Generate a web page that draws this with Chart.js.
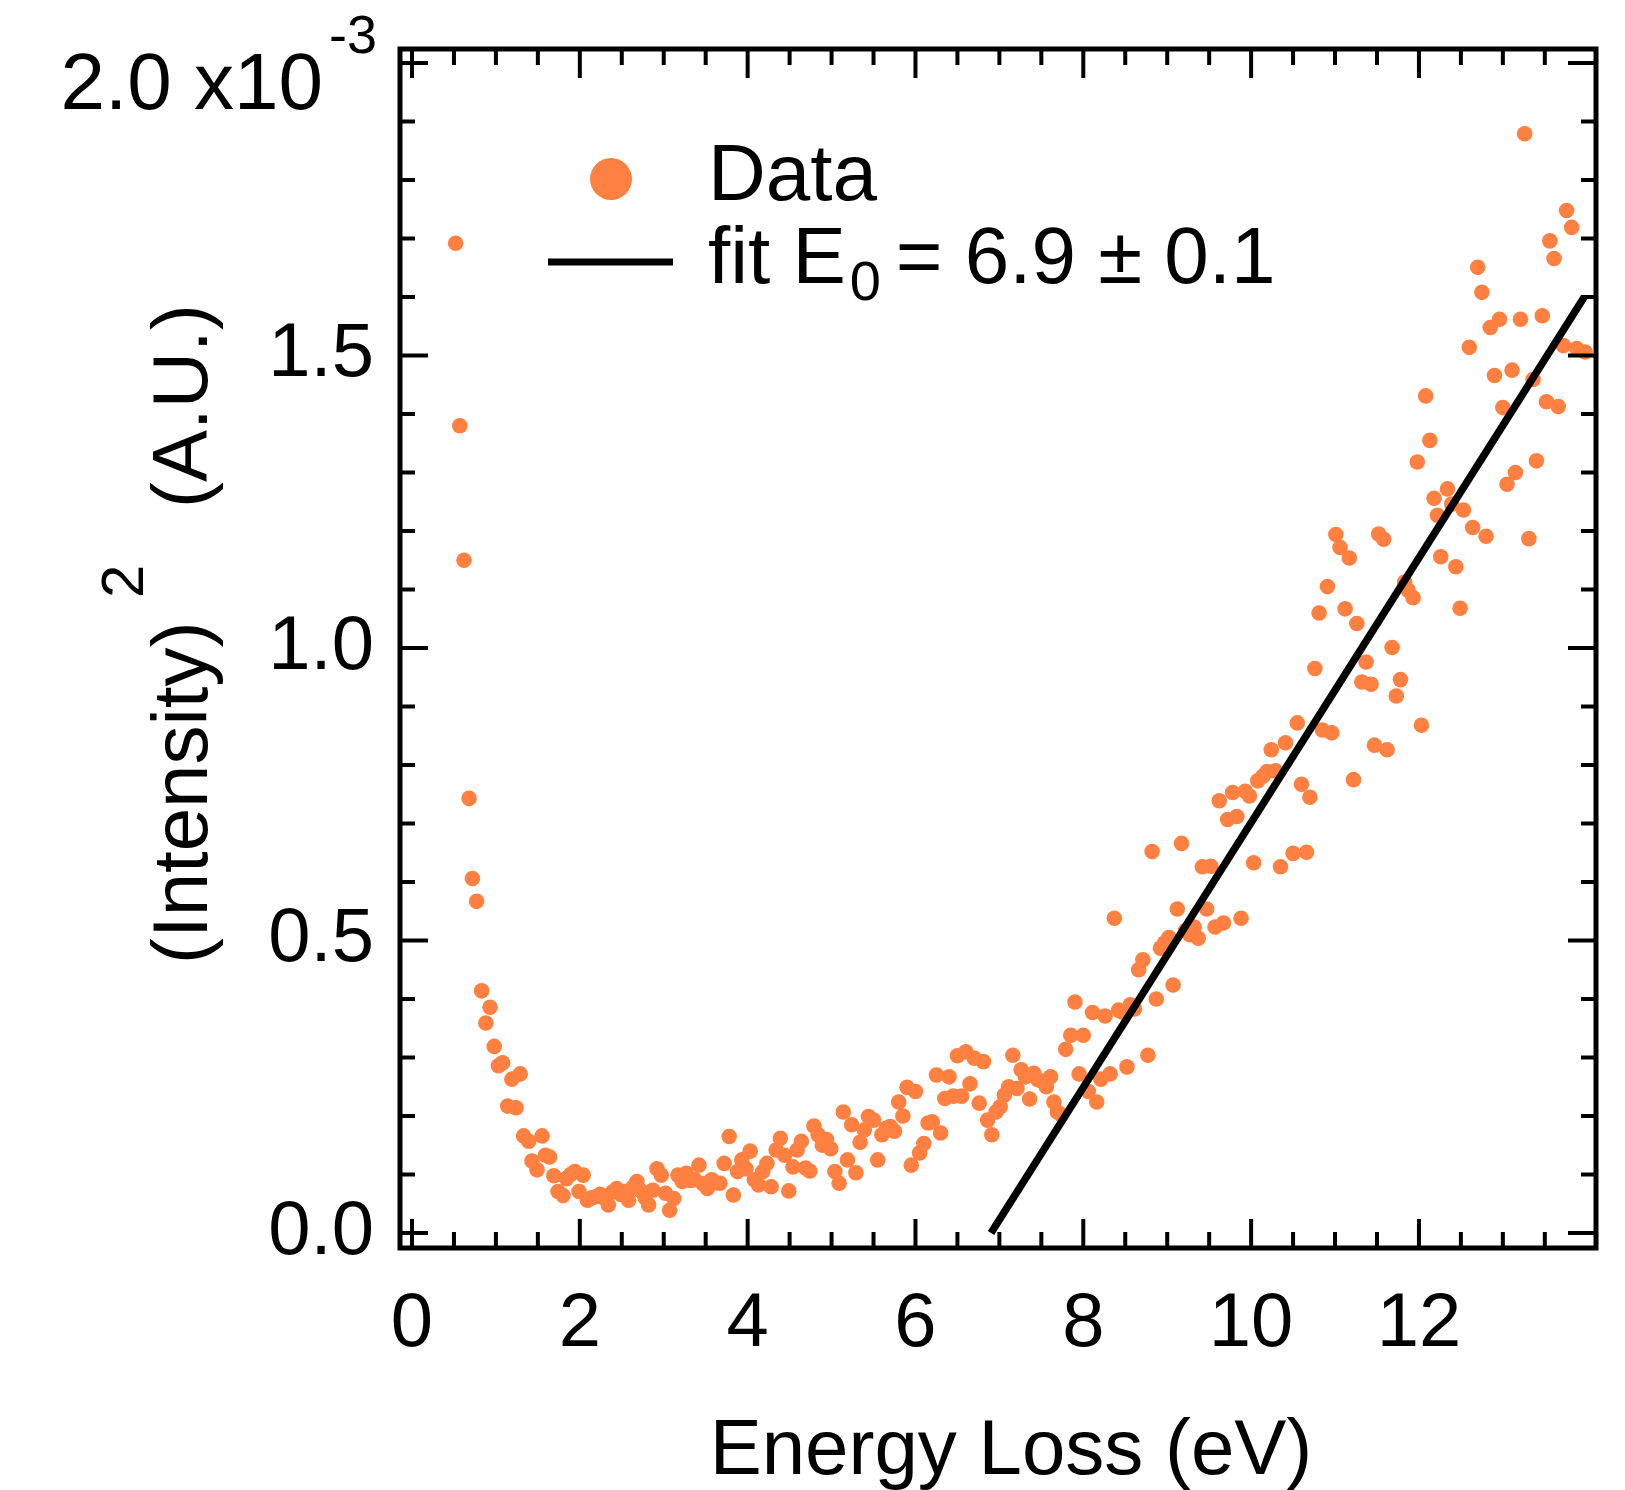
<!DOCTYPE html>
<html>
<head>
<meta charset="utf-8">
<script src="https://cdn.jsdelivr.net/npm/chart.js@4.4.1/dist/chart.umd.min.js"></script>
<style>
  html, body { margin: 0; padding: 0; background: #fff; }
</style>
</head>
<body>
<canvas id="chart" width="1625" height="1490"></canvas>
<script>
// energy loss (eV) and (intensity)^2 in units of 1e-3
const energies = [
  0.52, 0.57, 0.62, 0.68, 0.72, 0.77, 0.83, 0.88, 0.93, 0.98,
  1.03, 1.08, 1.14, 1.19, 1.24, 1.29, 1.33, 1.39, 1.43, 1.49,
  1.55, 1.59, 1.64, 1.69, 1.74, 1.80, 1.84, 1.89, 1.94, 1.99,
  2.04, 2.09, 2.14, 2.19, 2.24, 2.29, 2.34, 2.39, 2.44, 2.49,
  2.54, 2.58, 2.63, 2.68, 2.73, 2.78, 2.82, 2.87, 2.92, 2.97,
  3.02, 3.07, 3.12, 3.17, 3.22, 3.27, 3.32, 3.37, 3.42, 3.47,
  3.52, 3.57, 3.62, 3.67, 3.72, 3.78, 3.83, 3.88, 3.93, 3.98,
  4.03, 4.08, 4.13, 4.18, 4.23, 4.28, 4.34, 4.39, 4.44, 4.49,
  4.54, 4.59, 4.64, 4.69, 4.74, 4.79, 4.84, 4.89, 4.94, 4.99,
  5.04, 5.09, 5.14, 5.19, 5.24, 5.29, 5.34, 5.39, 5.44, 5.50,
  5.55, 5.60, 5.65, 5.70, 5.75, 5.80, 5.85, 5.90, 5.95, 6.00,
  6.05, 6.10, 6.15, 6.20, 6.25, 6.30, 6.35, 6.40, 6.45, 6.50,
  6.55, 6.60, 6.65, 6.70, 6.76, 6.81, 6.86, 6.91, 6.96, 7.01,
  7.06, 7.11, 7.16, 7.21, 7.26, 7.31, 7.36, 7.41, 7.46, 7.51,
  7.56, 7.61, 7.65, 7.69, 7.74, 7.79, 7.85, 7.90, 7.95, 8.00,
  8.06, 8.11, 8.16, 8.21, 8.26, 8.32, 8.37, 8.42, 8.46, 8.52,
  8.56, 8.61, 8.66, 8.71, 8.77, 8.82, 8.87, 8.92, 8.97, 9.02,
  9.07, 9.12, 9.17, 9.22, 9.27, 9.32, 9.37, 9.42, 9.47, 9.52,
  9.57, 9.62, 9.67, 9.72, 9.78, 9.83, 9.88, 9.93, 9.98, 10.03,
  10.08, 10.14, 10.19, 10.24, 10.29, 10.35, 10.41, 10.50, 10.55, 10.60,
  10.66, 10.70, 10.76, 10.81, 10.85, 10.91, 10.96, 11.01, 11.06, 11.12,
  11.17, 11.22, 11.26, 11.32, 11.37, 11.43, 11.47, 11.52, 11.58, 11.62,
  11.68, 11.73, 11.78, 11.83, 11.87, 11.93, 11.98, 12.03, 12.08, 12.13,
  12.18, 12.22, 12.26, 12.34, 12.39, 12.44, 12.49, 12.53, 12.60, 12.64,
  12.70, 12.75, 12.80, 12.85, 12.90, 12.96, 13.00, 13.05, 13.11, 13.15,
  13.21, 13.26, 13.31, 13.36, 13.40, 13.47, 13.52, 13.56, 13.61, 13.66,
  13.72, 13.76, 13.82, 13.88, 13.98
];
const intensity = [
  1.692, 1.380, 1.150, 0.743, 0.606, 0.567, 0.414, 0.359, 0.386, 0.319,
  0.286, 0.291, 0.217, 0.263, 0.214, 0.272, 0.166, 0.157, 0.123, 0.108,
  0.166, 0.133, 0.130, 0.098, 0.071, 0.064, 0.093, 0.100, 0.105, 0.071,
  0.099, 0.056, 0.060, 0.062, 0.066, 0.060, 0.048, 0.070, 0.076, 0.066,
  0.071, 0.056, 0.078, 0.088, 0.072, 0.060, 0.048, 0.073, 0.110, 0.099,
  0.068, 0.039, 0.059, 0.099, 0.088, 0.102, 0.090, 0.091, 0.116, 0.084,
  0.076, 0.091, 0.086, 0.085, 0.119, 0.165, 0.065, 0.105, 0.125, 0.110,
  0.140, 0.091, 0.082, 0.105, 0.119, 0.079, 0.142, 0.162, 0.133, 0.072,
  0.113, 0.142, 0.157, 0.111, 0.106, 0.183, 0.168, 0.150, 0.160, 0.144,
  0.105, 0.085, 0.207, 0.125, 0.185, 0.103, 0.155, 0.176, 0.199, 0.193,
  0.125, 0.168, 0.179, 0.182, 0.174, 0.224, 0.200, 0.249, 0.116, 0.242,
  0.137, 0.153, 0.188, 0.190, 0.270, 0.171, 0.230, 0.267, 0.234, 0.303,
  0.234, 0.310, 0.255, 0.299, 0.222, 0.293, 0.193, 0.168, 0.207, 0.216,
  0.236, 0.250, 0.304, 0.247, 0.279, 0.267, 0.229, 0.273, 0.262, 0.259,
  0.250, 0.267, 0.224, 0.207, 0.202, 0.314, 0.338, 0.395, 0.272, 0.338,
  0.242, 0.377, 0.224, 0.263, 0.371, 0.272, 0.538, 0.381, 0.378, 0.284,
  0.390, 0.383, 0.450, 0.467, 0.304, 0.652, 0.400, 0.487, 0.496, 0.505,
  0.424, 0.554, 0.666, 0.517, 0.510, 0.523, 0.504, 0.626, 0.554, 0.627,
  0.523, 0.739, 0.530, 0.707, 0.753, 0.712, 0.538, 0.755, 0.747, 0.633,
  0.773, 0.781, 0.789, 0.826, 0.790, 0.626, 0.838, 0.649, 0.872, 0.767,
  0.651, 0.745, 0.965, 1.060, 0.860, 1.105, 0.855, 1.194, 1.172, 1.067,
  1.154, 0.775, 1.042, 0.942, 0.976, 0.938, 0.834, 1.195, 1.186, 0.826,
  1.001, 0.918, 0.946, 1.113, 1.099, 1.086, 1.318, 0.868, 1.431, 1.355,
  1.256, 1.227, 1.156, 1.272, 1.246, 1.139, 1.068, 1.236, 1.514, 1.206,
  1.651, 1.608, 1.191, 1.548, 1.466, 1.562, 1.411, 1.280, 1.475, 1.300,
  1.562, 1.879, 1.187, 1.459, 1.320, 1.568, 1.421, 1.696, 1.666, 1.413,
  1.517, 1.748, 1.719, 1.512, 1.506
];

// linear fit, onset E0 = 6.9 eV
const fitEnergy = [6.9, 13.97];
const fitIntensity = [0, 1.6];

const xTicks = [0, 2, 4, 6, 8, 10, 12];
const yTicks = [0, 0.5, 1.0, 1.5];

const FONT = '"Liberation Sans", Arial, Helvetica, sans-serif';
const ORANGE = 'rgb(255,128,64)';

const points = energies.map((e, i) => ({ x: e, y: intensity[i] }));
const fitLine = fitEnergy.map((e, i) => ({ x: e, y: fitIntensity[i] }));

// frame with inward ticks on all four sides, legend and special labels
const decorations = {
  id: 'decorations',
  afterDraw(chart) {
    const { ctx, chartArea: a, scales: { x, y } } = chart;
    ctx.save();
    ctx.strokeStyle = '#000';
    ctx.lineWidth = 4;
    ctx.beginPath();
    for (let i = 0; i <= 27; i++) {
      const px = x.getPixelForValue(i * 0.5);
      const len = i % 4 === 0 ? 29 : 16;
      ctx.moveTo(px, a.bottom); ctx.lineTo(px, a.bottom - len);
      ctx.moveTo(px, a.top); ctx.lineTo(px, a.top + len);
    }
    for (let i = 0; i <= 20; i++) {
      const py = y.getPixelForValue(i * 0.1);
      const len = i % 5 === 0 ? 28 : 15;
      ctx.moveTo(a.left, py); ctx.lineTo(a.left + len, py);
      ctx.moveTo(a.right, py); ctx.lineTo(a.right - len, py);
    }
    ctx.stroke();
    ctx.lineWidth = 5;
    ctx.strokeRect(a.left, a.top, a.right - a.left, a.bottom - a.top);

    ctx.fillStyle = '#000';
    // top y label with exponent
    ctx.textBaseline = 'alphabetic';
    ctx.textAlign = 'right';
    ctx.font = '80px ' + FONT;
    ctx.fillText('2.0 x10', 323, 109);
    ctx.textAlign = 'left';
    ctx.font = '54px ' + FONT;
    ctx.fillText('-3', 329, 53);

    // x title
    ctx.textAlign = 'center';
    ctx.font = '78px ' + FONT;
    ctx.fillText('Energy Loss (eV)', (a.left + a.right) / 2 + 13, 1474);

    // y title, rotated
    ctx.save();
    ctx.translate(207, 0);
    ctx.rotate(-Math.PI / 2);
    ctx.textAlign = 'left';
    ctx.font = '78px ' + FONT;
    ctx.fillText('(Intensity)', -964, 0);
    ctx.font = '60px ' + FONT;
    ctx.fillText('2', -598, -64);
    ctx.font = '78px ' + FONT;
    ctx.fillText('(A.U.)', -508, 0);
    ctx.restore();

    // legend
    ctx.fillStyle = ORANGE;
    ctx.beginPath();
    ctx.arc(611, 179, 21, 0, Math.PI * 2);
    ctx.fill();
    ctx.strokeStyle = '#000';
    ctx.lineWidth = 7;
    ctx.beginPath();
    ctx.moveTo(548, 262); ctx.lineTo(673, 262);
    ctx.stroke();
    ctx.fillStyle = '#000';
    ctx.textAlign = 'left';
    ctx.font = '80px ' + FONT;
    ctx.fillText('Data', 708, 200);
    ctx.fillText('fit E', 708, 283);
    const ex = 708 + ctx.measureText('fit E').width + 4;
    ctx.font = '56px ' + FONT;
    ctx.fillText('0', ex, 300);
    ctx.font = '80px ' + FONT;
    ctx.fillText('= 6.9 \u00b1 0.1', ex + 46, 283);
    ctx.restore();
  }
};

new Chart(document.getElementById('chart'), {
  type: 'scatter',
  data: {
    datasets: [
      {
        label: 'fit',
        data: fitLine,
        showLine: true,
        borderColor: '#000',
        borderWidth: 7.5,
        pointRadius: 0,
        fill: false,
        order: 0
      },
      {
        label: 'Data',
        data: points,
        backgroundColor: ORANGE,
        borderWidth: 0,
        pointRadius: 7.8,
        order: 1
      }
    ]
  },
  options: {
    responsive: false,
    animation: false,
    devicePixelRatio: 1,
    layout: { padding: { left: 0, right: 29, top: 49, bottom: 0 } },
    plugins: { legend: { display: false }, tooltip: { enabled: false } },
    scales: {
      x: {
        type: 'linear',
        min: -0.143,
        max: 14.11,
        grid: { display: false },
        border: { display: false },
        afterFit: s => { s.height = 242; s.paddingLeft = 0; s.paddingRight = 0; },
        afterBuildTicks: s => { s.ticks = xTicks.map(v => ({ value: v })); },
        ticks: {
          color: '#000',
          padding: 23,
          maxRotation: 0,
          autoSkip: false,
          font: { family: FONT, size: 76 },
          callback: v => String(v)
        }
      },
      y: {
        type: 'linear',
        min: -0.0256,
        max: 2.024,
        grid: { display: false },
        border: { display: false },
        afterFit: s => { s.width = 400; s.paddingTop = 0; s.paddingBottom = 0; },
        afterBuildTicks: s => { s.ticks = yTicks.map(v => ({ value: v })); },
        ticks: {
          color: '#000',
          padding: 18,
          autoSkip: false,
          font: { family: FONT, size: 76 },
          callback: v => v.toFixed(1)
        }
      }
    }
  },
  plugins: [decorations]
});
</script>
</body>
</html>
